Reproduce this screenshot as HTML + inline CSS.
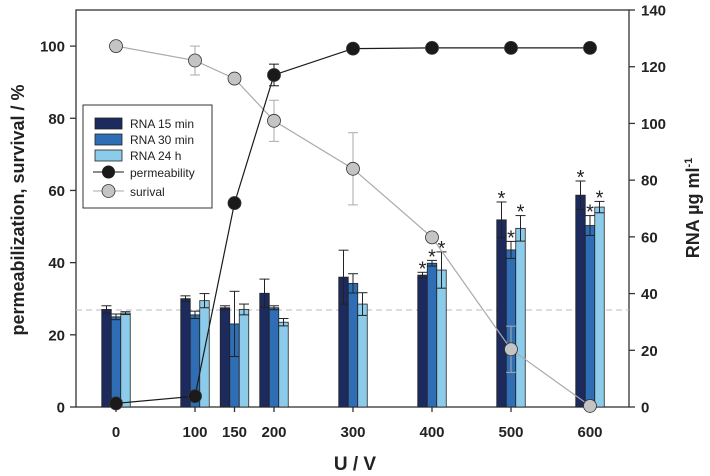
<!DOCTYPE html>
<html><head><meta charset="utf-8"><style>
body{margin:0;background:#fff}
svg{display:block;font-family:"Liberation Sans",Arial,sans-serif}
</style></head><body>
<svg id="chart" width="710" height="476"></svg>
<script>
const voltages=[0,100,150,200,300,400,500,600];
const rna15=[34.4,38.2,35,40.1,45.8,46.5,66,74.7];
const rna15Err=[1.3,1,0.7,5,9.5,1,6.3,5];
const rna30=[31.8,32.5,29.3,35,43.6,50.7,55.4,64];
const rna30Err=[1,1.3,11.5,0.7,3.4,1,3,3.5];
const rna24=[33.1,37.5,34.4,29.9,36.3,48.3,63,70.5];
const rna24Err=[0.5,2.5,1.9,1.3,4,6.4,4.5,2];
const sig15=[0,0,0,0,0,1,1,1];
const sig30=[0,0,0,0,0,1,1,1];
const sig24=[0,0,0,0,0,1,1,1];
const perm=[1,3,56.5,92,99.3,99.5,99.5,99.5];
const permErr=[0,0,1,3,0,0,0,0];
const surv=[100,96,91,79.3,66,47,16,0.3];
const survErr=[0,4,0,5.7,10,0,6.4,0];
const leftTicks=[0,20,40,60,80,100];
const rightTicks=[0,20,40,60,80,100,120,140];
const baselineRNA=34.2;

const NS="http://www.w3.org/2000/svg";
const svg=document.getElementById('chart');
const L=76,R=629,T=10,B=407;
const xs=v=>116+v*0.79;
const yl=v=>B-(B-T)*v/110;
const yr=v=>B-(B-T)*v/140;
function mk(tag,attrs,parent,text){const e=document.createElementNS(NS,tag);for(const k in attrs)e.setAttribute(k,attrs[k]);if(text!==undefined)e.textContent=text;(parent||svg).appendChild(e);return e;}

let g=mk('rect',{x:L,y:T,width:R-L,height:B-T,fill:'none',stroke:'#333','stroke-width':1.3});



let dl=mk('line',{x1:L,x2:R,y1:yr(baselineRNA),y2:yr(baselineRNA),stroke:'#bbb','stroke-dasharray':'6,4','stroke-width':1});



leftTicks.forEach(t=>{
  mk('line',{x1:L-6,x2:L,y1:yl(t),y2:yl(t),stroke:'#333','stroke-width':1.3});
  let tx=mk('text',{x:L-11,y:yl(t)+5.5,'text-anchor':'end','font-size':15,'font-weight':'bold',fill:'#222'},null,t);
  
  
});
rightTicks.forEach(t=>{
  mk('line',{x1:R,x2:R+6,y1:yr(t),y2:yr(t),stroke:'#333','stroke-width':1.3});
  let tx=mk('text',{x:R+12,y:yr(t)+5.5,'font-size':15,'font-weight':'bold',fill:'#222'},null,t);
  
  
});
voltages.forEach(v=>{
  mk('line',{x1:xs(v),x2:xs(v),y1:B,y2:B+5,stroke:'#333','stroke-width':1.3});
  let tx=mk('text',{x:xs(v),y:B+30,'text-anchor':'middle','font-size':15,'font-weight':'bold',fill:'#222'},null,v);
  
  
});

const series=[[rna15,rna15Err,sig15,'#1c2a5e',-9.5],[rna30,rna30Err,sig30,'#2f6db5',0],[rna24,rna24Err,sig24,'#8ccbea',9.5]];
series.forEach((s,si)=>{
  voltages.forEach((v,i)=>{
    const cx=xs(v)+s[4],w=9.5,y=yr(s[0][i]);
    let b=mk('rect',{x:cx-w/2,y:y,width:w,height:B-y,fill:s[3],stroke:'#222','stroke-width':0.8});
    
    
    const e=s[1][i],y1=yr(s[0][i]+e),y2=yr(s[0][i]-e);
    mk('line',{x1:cx,x2:cx,y1:y1,y2:y2,stroke:'#222','stroke-width':1});
    mk('line',{x1:cx-5,x2:cx+5,y1:y1,y2:y1,stroke:'#222','stroke-width':1});
    mk('line',{x1:cx-5,x2:cx+5,y1:y2,y2:y2,stroke:'#222','stroke-width':1});
    if(s[2][i]){let a=mk('text',{x:cx,y:y1+3,'text-anchor':'middle','font-size':20,fill:'#222'},null,'*');
      
      }
  });
});

function lineSeries(vals,errs,fill,stroke,name){
  let pts=voltages.map((v,i)=>xs(v)+','+yl(vals[i])).join(' ');
  let pl=mk('polyline',{points:pts,fill:'none',stroke:stroke,'stroke-width':1.2});
  
  
  voltages.forEach((v,i)=>{
    const cx=xs(v);
    if(errs[i]>0){const y1=yl(vals[i]+errs[i]),y2=yl(vals[i]-errs[i]);
      mk('line',{x1:cx,x2:cx,y1:y1,y2:y2,stroke:stroke,'stroke-width':1});
      mk('line',{x1:cx-5,x2:cx+5,y1:y1,y2:y1,stroke:stroke,'stroke-width':1});
      mk('line',{x1:cx-5,x2:cx+5,y1:y2,y2:y2,stroke:stroke,'stroke-width':1});}
    let c=mk('circle',{cx:cx,cy:yl(vals[i]),r:6.5,fill:fill,stroke:'#333','stroke-width':0.8});
    
    
  });
}
lineSeries(surv,survErr,'#c4c4c4','#aaa','survival');
lineSeries(perm,permErr,'#1a1a1a','#1a1a1a','permeability');
</script>
<svg width="710" height="476" style="position:absolute;left:0;top:0;font-family:'Liberation Sans',Arial,sans-serif">
  <g>
    <rect x="83" y="105" width="129" height="103" fill="#fff" stroke="#333" stroke-width="1"/>
    <rect x="95" y="118" width="27" height="11" fill="#1c2a5e" stroke="#222" stroke-width="0.8"/>
    <text x="130" y="128" font-size="12" fill="#222">RNA 15 min</text>
    <rect x="95" y="134" width="27" height="11" fill="#2f6db5" stroke="#222" stroke-width="0.8"/>
    <text x="130" y="144" font-size="12" fill="#222">RNA 30 min</text>
    <rect x="95" y="150" width="27" height="11" fill="#8ccbea" stroke="#222" stroke-width="0.8"/>
    <text x="130" y="160" font-size="12" fill="#222">RNA 24 h</text>
    <line x1="93" x2="124" y1="172" y2="172" stroke="#1a1a1a" stroke-width="1"/>
    <circle cx="108.5" cy="172" r="6.5" fill="#1a1a1a"/>
    <text x="130" y="177" font-size="12" fill="#222">permeability</text>
    <line x1="93" x2="124" y1="191" y2="191" stroke="#aaa" stroke-width="1"/>
    <circle cx="108.5" cy="191" r="6.5" fill="#c4c4c4" stroke="#333" stroke-width="0.8"/>
    <text x="130" y="196" font-size="12" fill="#222">surival</text>
  </g>
  <text transform="translate(24,210) rotate(-90)" text-anchor="middle" font-size="18" font-weight="bold" fill="#222">permeabilization, survival / %</text>
  <text transform="translate(699,208) rotate(-90)" text-anchor="middle" font-size="18" font-weight="bold" fill="#222">RNA µg ml<tspan font-size="11" dy="-7">-1</tspan></text>
  <text x="355" y="470" text-anchor="middle" font-size="19" font-weight="bold" fill="#222">U / V</text>
</svg>
</body></html>
